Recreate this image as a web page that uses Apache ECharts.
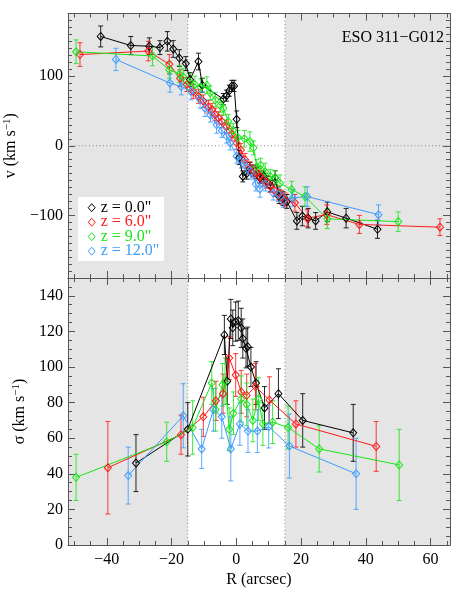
<!DOCTYPE html>
<html>
<head>
<meta charset="utf-8">
<script src="https://cdn.jsdelivr.net/npm/echarts@6/dist/echarts.min.js"></script>
<style>
    html, body {margin: 0; padding: 0; background: #fff;}
    #chart {width: 458px; height: 599px;}
</style>
</head>
<body>
<div id="chart"></div>
<script>
    // each point: [R (arcsec), value, error]
    var velZ0 = [[-41.9,157,15],[-32.6,144,13],[-26.9,143,12],[-23.6,141,10],[-21.3,150,14],[-19.5,139,12],[-17.6,126,12],[-15.6,118,10],[-14.3,95,10],[-11.7,121,12],[-10.5,87,10],[-4.0,67,8],[-3.0,72,8],[-2.2,79,8],[-1.4,86,8],[-0.7,86,8],[0.1,38,12],[0.9,-17,10],[2.0,-44,8],[3.2,-40,8],[4.2,-32,8],[5.3,-36,8],[6.3,-39,8],[7.3,-46,8],[8.5,-44,8],[9.6,-52,8],[10.6,-58,8],[12.0,-46,10],[13.2,-73,10],[14.4,-76,10],[15.6,-80,10],[18.7,-108,12],[20.4,-101,14],[22.2,-104,14],[24.5,-108,12],[28.1,-95,14],[33.9,-104,14],[43.6,-120,13]];
    var velZ6 = [[-48.3,131,17],[-27.2,136,14],[-20.7,117,14],[-17.4,97,12],[-15.3,88,10],[-13.3,78,10],[-11.7,71,10],[-10.2,64,9],[-8.6,56,9],[-7.5,52,9],[-6.6,45,9],[-5.5,40,9],[-4.5,35,9],[-3.0,28,9],[-1.4,16,9],[0.1,4,9],[1.4,-6,9],[2.7,-20,9],[4.2,-32,9],[5.2,-36,9],[6.3,-39,9],[7.3,-44,9],[8.3,-49,9],[9.3,-52,9],[10.4,-58,9],[11.7,-64,9],[13.0,-68,10],[14.0,-74,10],[15.0,-78,10],[18.1,-82,12],[21.9,-104,12],[27.9,-99,14],[38.0,-113,13],[62.9,-117,12]];
    var velZ9 = [[-49.5,135,17],[-25.9,129,14],[-20.7,109,12],[-17.6,103,12],[-16.4,99,12],[-14.5,92,12],[-12.8,88,12],[-11.0,84,12],[-9.1,87,12],[-8.1,76,10],[-6.5,66,10],[-5.0,58,10],[-4.0,54,10],[-2.5,35,10],[-1.0,22,10],[0.5,12,10],[2.5,10,12],[4.2,6,14],[5.3,-3,10],[6.3,-30,10],[7.5,-28,10],[8.9,-37,12],[10.5,-44,10],[12.0,-46,10],[13.5,-54,12],[17.1,-63,12],[21.2,-73,14],[28.1,-105,14],[50.0,-109,14]];
    var velZ12 = [[-37.2,124,16],[-20.5,90,13],[-17.0,85,12],[-14.0,78,12],[-11.2,66,12],[-9.7,54,12],[-8.0,44,10],[-6.1,30,12],[-4.5,22,10],[-3.0,14,10],[-1.9,4,10],[0.1,-15,10],[1.5,-22,10],[3.0,-30,10],[4.5,-38,10],[6.0,-55,10],[7.3,-62,12],[9.0,-55,10],[11.4,-68,10],[13.0,-70,10],[14.5,-79,10],[17.4,-75,12],[21.9,-73,14],[43.9,-99,14]];

    var sigZ0 = [[-31.0,46,16],[-15.0,65,15],[-3.7,118,11],[-2.8,92,13],[-1.7,127,11],[-1.1,122,10],[-0.2,125.5,11],[0.6,126,11],[1.5,122,11],[2.0,116,11],[3.0,110.5,11],[3.5,111.4,11],[4.5,100,11],[6.1,91,12],[8.7,77,12],[13.0,85,14],[20.5,70,15],[36.1,63,16]];
    var sigZ6 = [[-39.7,43.4,26],[-17.1,62,11],[-10.2,72,11],[-6.3,81,11],[-4.1,85,11],[-2.2,105,12],[-0.2,95.5,12],[1.5,86,12],[3.2,84,12],[5.9,89,13],[10.2,81.5,13],[18.4,68,13],[43.2,55.4,14]];
    var sigZ9 = [[-49.5,38,13],[-21.5,58,11],[-13.5,66,15],[-7.6,91,12],[-6.4,76,12],[-4.3,90,12],[-3.5,92,13],[-2.2,65,12],[-0.9,74,12],[1.5,82,13],[3.2,79,12],[5.1,70,12],[6.8,82,12],[8.2,68,12],[11.2,69,12],[16.0,66,12],[25.6,54,13],[50.3,45,20]];
    var sigZ12 = [[-33.4,39,16],[-16.4,72.6,18],[-10.7,54,11],[-7.1,76,12],[-4.5,72,12],[-1.7,54,18],[1.1,68,12],[3.6,64,12],[6.5,64,12],[10.0,66.5,12],[16.4,55.6,18],[37.0,40,20]];

    var slitNames = ['z = 0.0"', 'z = 6.0"', 'z = 9.0"', 'z = 12.0"'];
    var slitColors = ['#000000', '#ff1a1a', '#19e619', '#3d9bff'];

    var shadeRanges = [[-52, -15], [15, 66]];
    var centreEdges = [-15, 15];

    var xMajor = [-40, -20, 0, 20, 40, 60];
    var vMajor = [-100, 0, 100];
    var sigMajor = [0, 20, 40, 60, 80, 100, 120, 140];

    function steps(from, to, step) {
        var out = [];
        for (var t = from; t <= to + 1e-9; t += step) out.push(t);
        return out;
    }
    var xMinor = steps(-50, 65, 5);
    var vMinor = steps(-190, 190, 10);
    var sigMinor = steps(0, 150, 5);

    var FONT = 'Liberation Serif';
    var AXIS = '#555';

    function minusFmt(v) {
        return v < 0 ? '\u2212' + Math.abs(v) : String(v);
    }

    function axisPair(kind, grid, pos, min, max, major, minor, labels, extra) {
        var a = Object.assign({
            type: 'value', gridIndex: grid, position: pos, min: min, max: max,
            axisLine: {show: true, onZero: false, lineStyle: {color: AXIS, width: 1}},
            axisTick: {show: true, inside: true, length: 7, customValues: major, lineStyle: {color: AXIS}},
            axisLabel: labels ? {show: true, customValues: labels, formatter: minusFmt, fontFamily: FONT, fontSize: 16, color: '#000', margin: kind === 'x' ? 7 : 5} : {show: false},
            splitLine: {show: false}
        }, extra || {});
        var b = {
            type: 'value', gridIndex: grid, position: pos, min: min, max: max,
            axisLine: {show: false, onZero: false},
            axisTick: {show: true, inside: true, length: 4, customValues: minor, lineStyle: {color: AXIS}},
            axisLabel: {show: false},
            splitLine: {show: false}
        };
        return [a, b];
    }

    var yName = function (sym) {
        return {
            name: '{t|' + sym + ' (km s}{s|\u22121}{t|)}',
            nameLocation: 'middle', nameGap: 38, nameRotate: 90,
            nameTextStyle: {
                rich: {
                    t: {fontFamily: FONT, fontSize: 16, color: '#000', lineHeight: 18},
                    s: {fontFamily: FONT, fontSize: 11, color: '#000', verticalAlign: 'top', lineHeight: 18}
                }
            }
        };
    };

    var xAxes = [].concat(
        axisPair('x', 0, 'bottom', -52, 66, xMajor, xMinor, null),
        axisPair('x', 0, 'top', -52, 66, xMajor, xMinor, null),
        axisPair('x', 1, 'bottom', -52, 66, xMajor, xMinor, xMajor, {
            name: 'R (arcsec)', nameLocation: 'middle', nameGap: 27,
            nameTextStyle: {fontFamily: FONT, fontSize: 16, color: '#000'}
        }),
        axisPair('x', 1, 'top', -52, 66, xMajor, xMinor, null)
    );
    var yAxes = [].concat(
        axisPair('y', 0, 'left', -190, 190, vMajor, vMinor, vMajor, yName('v')),
        axisPair('y', 0, 'right', -190, 190, vMajor, vMinor, null),
        axisPair('y', 1, 'left', 0, 150, sigMajor, sigMinor, sigMajor, yName('\u03c3')),
        axisPair('y', 1, 'right', 0, 150, sigMajor, sigMinor, null)
    );

    function shade(xi, yi) {
        return {
            type: 'custom', xAxisIndex: xi, yAxisIndex: yi, z: 0, silent: true,
            encode: {x: [0, 1]},
            data: shadeRanges,
            renderItem: function (params, api) {
                var a = api.coord([api.value(0), 0]);
                var b = api.coord([api.value(1), 0]);
                var cs = params.coordSys;
                return {type: 'rect', shape: {x: a[0], y: cs.y, width: b[0] - a[0], height: cs.height}, style: {fill: '#e5e5e5'}};
            }
        };
    }

    function edges(xi, yi) {
        return {
            type: 'custom', xAxisIndex: xi, yAxisIndex: yi, z: 1, silent: true,
            encode: {x: 0},
            data: centreEdges.map(function (v) { return [v]; }),
            renderItem: function (params, api) {
                var p = api.coord([api.value(0), 0]);
                var cs = params.coordSys;
                return {type: 'line', shape: {x1: p[0], y1: cs.y, x2: p[0], y2: cs.y + cs.height},
                    style: {stroke: '#8a8a8a', lineWidth: 1, lineDash: [1, 2.5]}};
            }
        };
    }

    function zeroLine(xi, yi) {
        return {
            type: 'custom', xAxisIndex: xi, yAxisIndex: yi, z: 1, silent: true,
            encode: {y: 1},
            data: [[0, 0]],
            renderItem: function (params, api) {
                var p = api.coord([0, api.value(1)]);
                var cs = params.coordSys;
                return {type: 'line', shape: {x1: cs.x, y1: p[1], x2: cs.x + cs.width, y2: p[1]},
                    style: {stroke: '#8a8a8a', lineWidth: 1, lineDash: [1, 2.5]}};
            }
        };
    }

    function errorBars(data, color, xi, yi) {
        return {
            type: 'custom', xAxisIndex: xi, yAxisIndex: yi, z: 3, silent: true,
            encode: {x: 0, y: 1},
            data: data,
            renderItem: function (params, api) {
                var x = api.value(0), y = api.value(1), e = api.value(2);
                var hi = api.coord([x, y + e]);
                var lo = api.coord([x, y - e]);
                var w = 2.5;
                var st = {stroke: color, lineWidth: 1, opacity: 0.85};
                return {
                    type: 'group', children: [
                        {type: 'line', shape: {x1: hi[0], y1: hi[1], x2: lo[0], y2: lo[1]}, style: st},
                        {type: 'line', shape: {x1: hi[0] - w, y1: hi[1], x2: hi[0] + w, y2: hi[1]}, style: st},
                        {type: 'line', shape: {x1: lo[0] - w, y1: lo[1], x2: lo[0] + w, y2: lo[1]}, style: st}
                    ]
                };
            }
        };
    }

    function profile(data, i, xi, yi) {
        return {
            type: 'line', name: slitNames[i], xAxisIndex: xi, yAxisIndex: yi, z: 4,
            data: data.map(function (d) { return [d[0], d[1]]; }),
            symbol: 'diamond', symbolSize: [7, 8], showSymbol: true,
            lineStyle: {color: slitColors[i], width: 1},
            itemStyle: {color: 'rgba(0,0,0,0)', borderColor: slitColors[i], borderWidth: 1},
            emphasis: {disabled: true}
        };
    }

    var velSets = [velZ0, velZ6, velZ9, velZ12];
    var sigSets = [sigZ0, sigZ6, sigZ9, sigZ12];

    var series = [shade(0, 0), shade(4, 4), edges(0, 0), edges(4, 4), zeroLine(0, 0)];
    velSets.forEach(function (d, i) {
        series.push(errorBars(d, slitColors[i], 0, 0));
        series.push(profile(d, i, 0, 0));
    });
    sigSets.forEach(function (d, i) {
        series.push(errorBars(d, slitColors[i], 4, 4));
        series.push(profile(d, i, 4, 4));
    });

    // legend box drawn by hand (IDL style), top-left corner at (78, 197)
    var LX = 78, LY = 197;
    var graphics = [{type: 'rect', z: 100, shape: {x: LX, y: LY, width: 86, height: 64}, style: {fill: '#ffffff'}}];
    slitNames.forEach(function (n, i) {
        var cy = LY + 10.7 + 14.5 * i;
        var cx = LX + 13.7;
        graphics.push({type: 'polygon', z: 101,
            shape: {points: [[cx, cy - 4], [cx + 3.5, cy], [cx, cy + 4], [cx - 3.5, cy]]},
            style: {fill: '#ffffff', stroke: slitColors[i], lineWidth: 1}});
        graphics.push({type: 'text', z: 101, x: LX + 22.7, y: cy,
            style: {text: n, fill: slitColors[i], font: '16px "' + FONT + '"', verticalAlign: 'middle', textVerticalAlign: 'middle'}});
    });
    graphics.push({type: 'text', x: 444, y: 38, z: 100,
        style: {text: 'ESO 311\u2212G012', fill: '#000', font: '16px "' + FONT + '"', align: 'right', textAlign: 'right', verticalAlign: 'middle', textVerticalAlign: 'middle'}});

    var chart = echarts.init(document.getElementById('chart'), null, {renderer: 'canvas'});
    chart.setOption({
        animation: false,
        backgroundColor: '#fff',
        grid: [
            {left: 68, top: 13.5, width: 382, height: 264.5, outerBoundsMode: 'none'},
            {left: 68, top: 278, width: 382, height: 267, outerBoundsMode: 'none'}
        ],
        xAxis: xAxes,
        yAxis: yAxes,
        graphic: graphics,
        series: series
    });
</script>
</body>
</html>
